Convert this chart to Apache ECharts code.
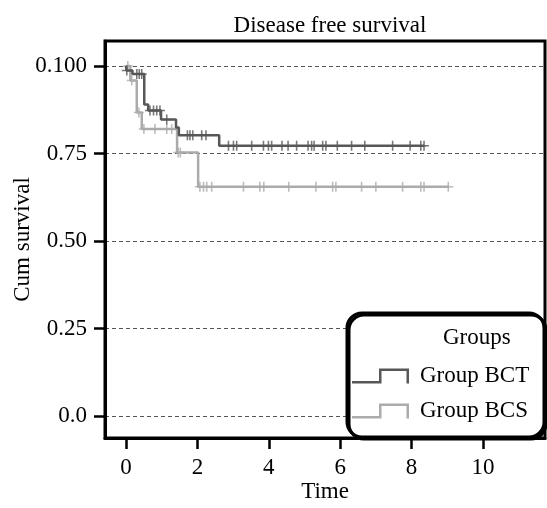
<!DOCTYPE html>
<html>
<head>
<meta charset="utf-8">
<title>Disease free survival</title>
<script src="https://cdn.jsdelivr.net/npm/echarts@6/dist/echarts.min.js"></script>
<style>
  html, body { margin: 0; padding: 0; background: #fff; }
  #chart { width: 547px; height: 508px; }
</style>
</head>
<body>
<div id="chart"></div>
<script>
// 生存曲线数据
var bctTime = [0, 0.01, 0.18, 0.51, 0.62, 0.98, 1.40, 1.48, 2.61, 8.35];
var bctSurv = [1.0, 0.987, 0.977, 0.89, 0.873, 0.847, 0.824, 0.802, 0.772, 0.772];
var bctCensor = [0.02, 0.30, 0.37, 0.44, 0.67, 0.77, 0.86, 0.95, 1.14, 1.72, 1.79, 1.87, 2.12, 2.24,
  2.87, 3.01, 3.10, 3.52, 3.85, 3.99, 4.08, 4.37, 4.54, 4.78, 5.10, 5.20, 5.27, 5.51, 5.60,
  5.92, 6.32, 6.69, 7.47, 7.96, 8.26, 8.35];

var bcsTime = [0, 0.12, 0.30, 0.44, 1.43, 2.02, 9.05];
var bcsSurv = [1.0, 0.958, 0.867, 0.82, 0.753, 0.655, 0.655];
var bcsCensor = [0.05, 0.16, 0.36, 0.50, 0.81, 1.14, 1.28, 1.46, 1.52, 2.07, 2.17, 2.26, 2.40,
  3.29, 3.75, 3.86, 4.56, 5.32, 5.79, 5.88, 6.60, 7.00, 7.75, 8.26, 8.35, 9.03];

var groupNames = ["Group BCT", "Group BCS"];
var xTicks = [0, 2, 4, 6, 8, 10];
var yTicks = [0, 0.25, 0.5, 0.75, 1.0];
var yTickLabels = ["0.0", "0.25", "0.50", "0.75", "0.100"];

var xMin = -0.59, xMax = 11.74;
var yMin = -0.062, yMax = 1.071;

var darkColor = "#575757";
var lightColor = "#ababab";
var serif = "'Liberation Serif', 'DejaVu Serif', serif";

// 阶梯曲线的点
function stepPoints(times, surv) {
  return times.map(function (t, i) { return [t, surv[i]]; });
}
// 删失点：取该时刻的生存率
function censorPoints(times, surv, censor) {
  return censor.map(function (c) {
    var s = surv[0];
    for (var i = 0; i < times.length; i++) {
      if (times[i] <= c) s = surv[i];
    }
    return [c, s];
  });
}

var plusIcon = "path://M4,0 L5.5,0 L5.5,4.25 L9.5,4.25 L9.5,5.75 L5.5,5.75 L5.5,10 L4,10 L4,5.75 L0,5.75 L0,4.25 L4,4.25 Z";
var stepIcon = "path://M0,12.5 L27,12.5 L27,0 L57,0 L57,15 L54.5,15 L54.5,2.5 L29.5,2.5 L29.5,15 L0,15 Z";

var myChart = echarts.init(document.getElementById("chart"));

var option = {
  animation: false,
  title: {
    text: "Disease free survival",
    left: 325,
    top: 9,
    textAlign: "center",
    textStyle: { fontFamily: serif, fontSize: 23, fontWeight: "normal", color: "#000" }
  },
  grid: {
    left: 105,
    right: 2,
    top: 41,
    bottom: 67,
    show: true,
    borderColor: "#000",
    borderWidth: 3,
    backgroundColor: "transparent"
  },
  xAxis: {
    type: "value",
    min: xMin,
    max: xMax,
    name: "Time",
    nameLocation: "middle",
    nameGap: 42,
    nameMoveOverlap: false,
    nameTextStyle: { fontFamily: serif, fontSize: 23, color: "#000" },
    axisLine: { show: true, onZero: false, lineStyle: { color: "#000", width: 3 } },
    axisTick: {
      show: true,
      inside: false,
      length: 11,
      customValues: xTicks,
      lineStyle: { color: "#000", width: 2.5 }
    },
    axisLabel: {
      customValues: xTicks,
      margin: 18,
      fontFamily: serif,
      fontSize: 23,
      color: "#000"
    },
    splitLine: { show: false }
  },
  yAxis: {
    type: "value",
    min: yMin,
    max: yMax,
    name: "Cum survival",
    nameLocation: "middle",
    nameGap: 71,
    nameMoveOverlap: false,
    nameTextStyle: { fontFamily: serif, fontSize: 23, color: "#000" },
    axisLine: { show: true, onZero: false, lineStyle: { color: "#000", width: 3 } },
    axisTick: {
      show: true,
      inside: false,
      length: 11,
      customValues: yTicks,
      lineStyle: { color: "#000", width: 2.5 }
    },
    axisLabel: {
      customValues: yTicks,
      margin: 18,
      fontFamily: serif,
      fontSize: 23,
      color: "#000",
      formatter: function (v) {
        var i = yTicks.indexOf(v);
        return i >= 0 ? yTickLabels[i] : "";
      }
    },
    splitLine: {
      show: true,
      lineStyle: { color: "#555", width: 1, type: [4, 3] }
    }
  },
  legend: {
    orient: "vertical",
    left: 352,
    top: 364,
    padding: 0,
    itemGap: 11,
    itemWidth: 57,
    itemHeight: 15,
    z: 20,
    itemStyle: { borderWidth: 0 },
    textStyle: { fontFamily: serif, fontSize: 23, color: "#000", lineHeight: 24, padding: [0, 0, 0, 6] },
    data: [
      { name: groupNames[0], icon: stepIcon, itemStyle: { color: darkColor } },
      { name: groupNames[1], icon: stepIcon, itemStyle: { color: lightColor } }
    ]
  },
  graphic: [
    {
      type: "rect",
      z: 10,
      shape: { x: 347, y: 313, width: 197, height: 124, r: 15 },
      style: {
        fill: "#fff",
        stroke: "#000",
        lineWidth: 3,
        shadowColor: "#000",
        shadowOffsetX: 2,
        shadowOffsetY: 2
      }
    },
    {
      type: "text",
      z: 11,
      left: 443,
      top: 326,
      style: { text: "Groups", font: "23px " + serif, fill: "#000" }
    }
  ],
  series: [
    {
      name: groupNames[0],
      type: "line",
      step: "end",
      symbol: "none",
      lineStyle: { color: darkColor, width: 2.5 },
      itemStyle: { color: darkColor },
      z: 3,
      data: stepPoints(bctTime, bctSurv)
    },
    {
      name: groupNames[1],
      type: "line",
      step: "end",
      symbol: "none",
      lineStyle: { color: lightColor, width: 2.5 },
      itemStyle: { color: lightColor },
      z: 2,
      data: stepPoints(bcsTime, bcsSurv)
    },
    {
      name: groupNames[0],
      type: "scatter",
      symbol: plusIcon,
      symbolSize: 10,
      itemStyle: { color: darkColor },
      z: 3,
      data: censorPoints(bctTime, bctSurv, bctCensor)
    },
    {
      name: groupNames[1],
      type: "scatter",
      symbol: plusIcon,
      symbolSize: 10,
      itemStyle: { color: lightColor },
      z: 2,
      data: censorPoints(bcsTime, bcsSurv, bcsCensor)
    }
  ]
};

if (option && typeof option === "object") {
  myChart.setOption(option, true);
}
</script>
</body>
</html>
